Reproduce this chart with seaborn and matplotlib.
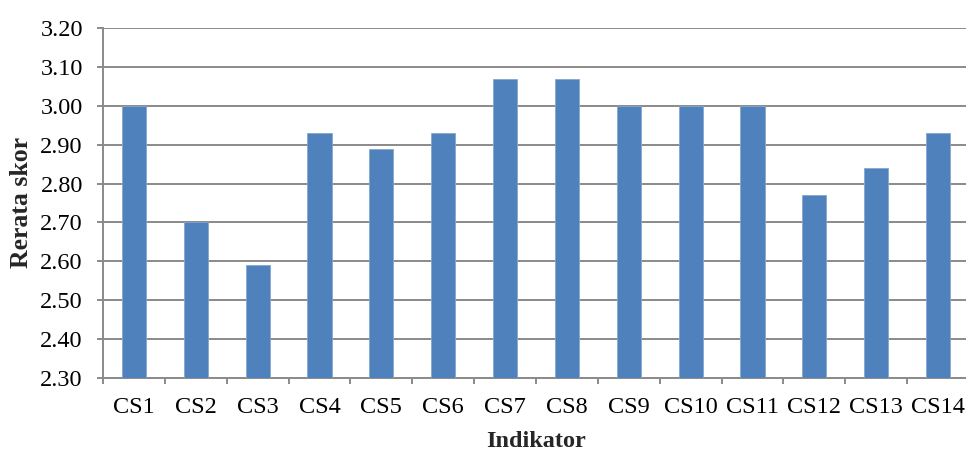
import matplotlib
matplotlib.use("Agg")
import matplotlib.pyplot as plt
from matplotlib.ticker import FixedLocator, FormatStrFormatter
import seaborn as sns
import pandas as pd

# Mean score per indicator
indikator = ["CS1", "CS2", "CS3", "CS4", "CS5", "CS6", "CS7",
             "CS8", "CS9", "CS10", "CS11", "CS12", "CS13", "CS14"]
rerata = [3.00, 2.70, 2.59, 2.93, 2.89, 2.93, 3.07,
          3.07, 3.00, 3.00, 3.00, 2.77, 2.84, 2.93]
y_ticks = [2.30, 2.40, 2.50, 2.60, 2.70, 2.80, 2.90, 3.00, 3.10, 3.20]

df = pd.DataFrame({"Indikator": indikator, "Rerata skor": rerata})

sns.set_theme(style="white")
plt.rcParams["font.family"] = ["Liberation Serif", "DejaVu Serif"]

grid_gray = "#8a8a8a"
bar_blue = "#4F81BD"

fig = plt.figure(figsize=(9.66, 4.5), dpi=100)
ax = fig.add_axes([103 / 966, 72 / 450, 866 / 966, 350 / 450])

sns.barplot(data=df, x="Indikator", y="Rerata skor", color=bar_blue,
            width=0.39, saturation=1, edgecolor="#86a6d0", linewidth=0.6,
            ax=ax, zorder=3)

ax.set_ylim(y_ticks[0], y_ticks[-1])
ax.set_xlim(-0.5, len(indikator) - 0.5)
ax.yaxis.set_major_locator(FixedLocator(y_ticks))
ax.yaxis.set_major_formatter(FormatStrFormatter("%.2f"))
ax.grid(axis="y", color=grid_gray, linewidth=1.4, zorder=0)
ax.set_axisbelow(True)

for side in ("top", "right"):
    ax.spines[side].set_visible(False)
for side in ("left", "bottom"):
    ax.spines[side].set_color(grid_gray)
    ax.spines[side].set_linewidth(1.4)

# Category separators drawn as small outward ticks on the x axis
ax.xaxis.set_minor_locator(FixedLocator([i - 0.5 for i in range(len(indikator) + 1)]))
ax.tick_params(axis="x", which="major", length=0, pad=14, labelsize=17.5,
               colors="black")
ax.tick_params(axis="x", which="minor", length=4.5, width=1.4, color=grid_gray,
               direction="out", bottom=True)
ax.tick_params(axis="y", which="major", length=4.5, width=1.4, color=grid_gray,
               direction="out", left=True, pad=10, labelsize=17.5,
               labelcolor="black")

ax.set_xlabel("Indikator", fontsize=17.5, fontweight="bold", labelpad=9)
ax.set_ylabel("Rerata skor", fontsize=18.5, fontweight="bold", labelpad=5)

fig.savefig("out.png", dpi=100, facecolor="white")
